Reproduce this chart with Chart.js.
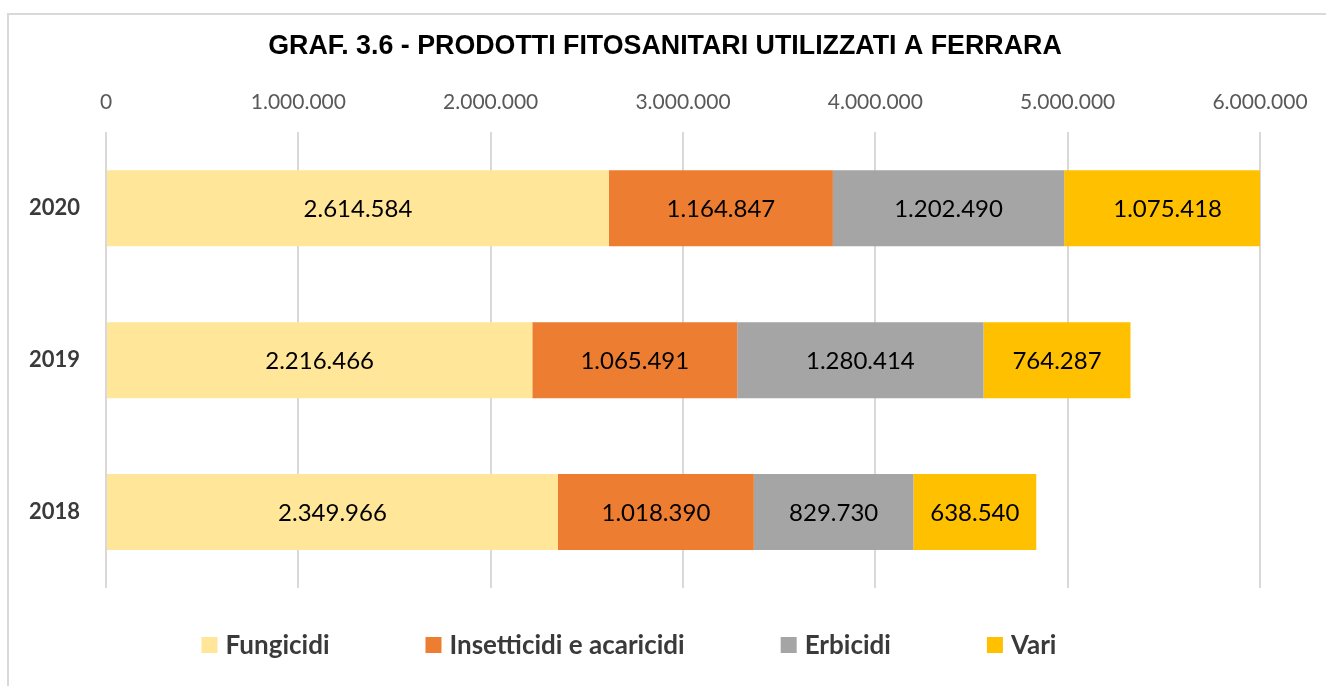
<!DOCTYPE html>
<html>
<head>
<meta charset="utf-8">
<script src="https://cdn.jsdelivr.net/npm/chart.js@4.4.0/dist/chart.umd.min.js"></script>
<style>
  html, body { margin: 0; padding: 0; background: #ffffff; }
  #wrap { width: 1326px; height: 686px; position: relative; }
</style>
</head>
<body>
<div id="wrap"><canvas id="c"></canvas></div>
<script>
const categories = ['2020', '2019', '2018'];
const seriesNames = ['Fungicidi', 'Insetticidi e acaricidi', 'Erbicidi', 'Vari'];
const fungicidi = [2614584, 2216466, 2349966];
const insetticidi = [1164847, 1065491, 1018390];
const erbicidi = [1202490, 1280414, 829730];
const vari = [1075418, 764287, 638540];
const seriesColors = ['#FFE699', '#ED7D31', '#A5A5A5', '#FFC000'];
const axisMin = 0;
const axisMax = 6000000;
const axisStep = 1000000;
const titleText = 'GRAF. 3.6 - PRODOTTI FITOSANITARI UTILIZZATI A FERRARA';

function fmt(v) {
  return String(Math.round(v)).replace(/\B(?=(\d{3})+(?!\d))/g, '.');
}

const seriesValues = [fungicidi, insetticidi, erbicidi, vari];

const borderPlugin = {
  id: 'frame',
  afterLayout(chart) {
    // center the title over the whole frame
    if (chart.titleBlock) {
      chart.titleBlock.left = 4;
      chart.titleBlock.right = chart.width;
      chart.titleBlock.width = chart.width - 4;
    }
  },
  beforeDraw(chart) {
    const ctx = chart.ctx;
    ctx.save();
    ctx.fillStyle = '#ffffff';
    ctx.fillRect(0, 0, chart.width, chart.height);
    ctx.strokeStyle = '#D9D9D9';
    ctx.lineWidth = 2;
    ctx.strokeRect(8, 14, chart.width - 8 + 4, chart.height + 10);
    ctx.restore();
  }
};

const labelPlugin = {
  id: 'barLabels',
  afterDatasetsDraw(chart) {
    const ctx = chart.ctx;
    ctx.save();
    ctx.font = '24px Lato';
    ctx.fillStyle = '#000000';
    ctx.textAlign = 'center';
    ctx.textBaseline = 'middle';
    chart.data.datasets.forEach((ds, i) => {
      const meta = chart.getDatasetMeta(i);
      meta.data.forEach((el, j) => {
        const p = el.getCenterPoint();
        ctx.fillText(fmt(ds.data[j]), p.x, p.y + 1);
      });
    });
    ctx.restore();
  }
};

const legendPlugin = {
  id: 'customLegend',
  afterDraw(chart) {
    const ctx = chart.ctx;
    ctx.save();
    ctx.font = 'bold 26px Lato';
    ctx.textBaseline = 'middle';
    const box = 16, gapText = 8, gapItem = 96;
    const items = chart.data.datasets.map(ds => ({
      label: ds.label, color: ds.backgroundColor,
      w: box + gapText + ctx.measureText(ds.label).width
    }));
    const total = items.reduce((s, it) => s + it.w, 0) + gapItem * (items.length - 1);
    const centerX = chart.width / 2 - 34;
    const y = chart.chartArea.bottom + 57;
    let x = centerX - total / 2;
    items.forEach(it => {
      ctx.fillStyle = it.color;
      ctx.fillRect(x, y - box / 2, box, box);
      ctx.fillStyle = '#3A3A3A';
      ctx.textAlign = 'left';
      ctx.fillText(it.label, x + box + gapText, y + 1);
      x += it.w + gapItem;
    });
    ctx.restore();
  }
};

new Chart(document.getElementById('c'), {
  type: 'bar',
  data: {
    labels: categories,
    datasets: seriesNames.map((name, i) => ({
      label: name,
      data: seriesValues[i],
      backgroundColor: seriesColors[i],
      borderWidth: 0,
      barPercentage: 1.0,
      categoryPercentage: 0.5
    }))
  },
  options: {
    indexAxis: 'y',
    responsive: true,
    maintainAspectRatio: false,
    animation: false,
    layout: { padding: { left: 0, right: 66, top: 0, bottom: 98 } },
    plugins: {
      legend: { display: false },
      tooltip: { enabled: false },
      title: {
        display: true,
        text: titleText,
        color: '#000000',
        font: { family: 'Liberation Sans, Arial, sans-serif', size: 26.8, weight: 'bold' },
        padding: { top: 31, bottom: 8 }
      }
    },
    scales: {
      x: {
        type: 'linear',
        position: 'top',
        stacked: true,
        min: axisMin,
        max: axisMax,
        ticks: {
          stepSize: axisStep,
          padding: 18,
          color: '#595959',
          font: { family: 'Lato', size: 21 },
          callback: (v) => fmt(v)
        },
        grid: { color: '#D9D9D9', lineWidth: 2, drawTicks: false },
        border: { display: false }
      },
      y: {
        stacked: true,
        ticks: {
          padding: 26,
          color: '#3A3A3A',
          font: { family: 'Lato', size: 22, weight: 'bold' }
        },
        grid: { display: false, drawTicks: false },
        border: { display: false },
        afterFit(scale) { scale.width = 106; }
      }
    }
  },
  plugins: [borderPlugin, labelPlugin, legendPlugin]
});
</script>
</body>
</html>
